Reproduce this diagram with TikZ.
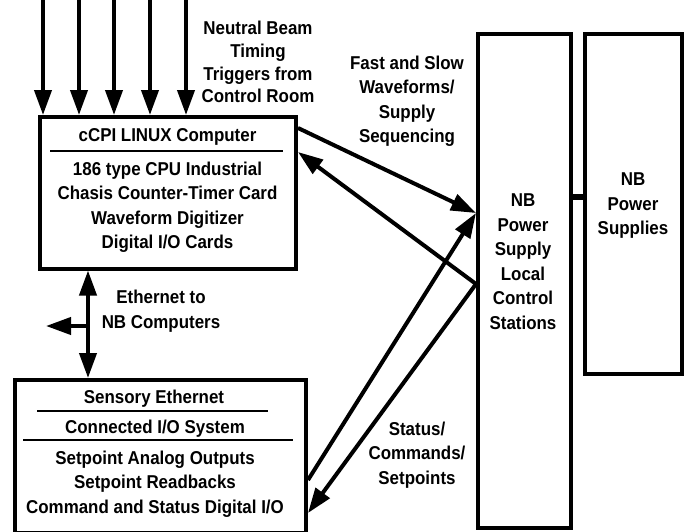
\documentclass[tikz,border=0pt]{standalone}
\usepackage{fontspec}
\setmainfont{Liberation Sans}[FakeStretch=0.91]
\usetikzlibrary{arrows.meta, positioning}

\begin{document}
\begin{tikzpicture}[x=1pt, y=-1pt, >={Triangle[length=25pt,width=17pt]},
        box/.style={rectangle, draw, line width=4pt, inner sep=0pt},
        txt/.style={align=center, inner sep=0pt, font=\bfseries\fontsize{18.6}{24.5}\selectfont},
        rule/.style={line width=2pt},
        flow/.style={line width=4pt}]
        \useasboundingbox (0,0) rectangle (688,531);

        % computer box
        \node at (167.75,192.75) [box, minimum width=256.5pt, minimum height=151.5pt] (ccpi) {};
        \node at (167.5,137) [txt] (ccpi_title) {cCPI LINUX Computer};
        \draw[rule] (50,151) -- (283,151);
        \node at (167.5,207) [txt] (ccpi_body) {186 type CPU Industrial\\Chasis Counter-Timer Card\\Waveform Digitizer\\Digital I/O Cards};

        % I/O box
        \node at (160.5,456.5) [box, minimum width=291pt, minimum height=153pt] (io) {};
        \node at (154,399) [txt] (io_title1) {Sensory Ethernet};
        \draw[rule] (37,411) -- (268,411);
        \node at (155,429) [txt] (io_title2) {Connected I/O System};
        \draw[rule] (23,440) -- (293,440);
        \node at (155,484) [txt] (io_body) {Setpoint Analog Outputs\\Setpoint Readbacks\\Command and Status Digital I/O};

        % power supply boxes
        \node at (524.5,281) [box, minimum width=93pt, minimum height=494pt] (nb_lcs) {};
        \node at (523,261.5) [txt] (nb_lcs_text) {NB\\Power\\Supply\\Local\\Control\\Stations};
        \node at (633.25,203.75) [box, minimum width=97.5pt, minimum height=339.5pt] (nb_ps) {};
        \node at (633,206) [txt] (nb_ps_text) {NB\\Power\\Supplies};
        \draw[line width=6pt] (nb_lcs.east |- 0,197) -- (nb_ps.west |- 0,197);

        % labels
        \node at (258,62) [txt, font=\bfseries\fontsize{18.6}{22.7}\selectfont] (trig_label) {Neutral Beam\\Timing\\Triggers from\\Control Room};
        \node at (407,101) [txt] (wave_label) {Fast and Slow\\Waveforms/\\Supply\\Sequencing};
        \node at (161,311) [txt] (eth_label) {Ethernet to\\NB Computers};
        \node at (417,455) [txt] (stat_label) {Status/\\Commands/\\Setpoints};

        % trigger arrows
        \foreach \x [count=\i] in {43,79,114,150,186}
            {
            \coordinate (trig\i) at (\x,0);
            \draw[flow, ->] (trig\i) -- (trig\i |- ccpi.north);
            }

        % ethernet
        \coordinate (eth_join) at (88,326);
        \coordinate (eth_out) at (46,326);
        \draw[flow, <->] (eth_join |- ccpi.south) -- (eth_join |- io.north);
        \draw[flow, ->] (eth_join) -- (eth_out);

        % links to local control stations
        \coordinate (nb_in) at ([yshift=68pt]nb_lcs.west);
        \coordinate (nb_out) at ([yshift=-3pt]nb_lcs.west);
        \draw   ([yshift=-13pt]ccpi.north east) edge[flow, ->] (nb_in)
                (nb_out) edge[flow, ->] ([yshift=-37pt]ccpi.north east)
                ([yshift=-102pt]io.north east) edge[flow, ->] (nb_in)
                (nb_out) edge[flow, ->] ([yshift=-135pt]io.north east)
            ;
\end{tikzpicture}
\end{document}
